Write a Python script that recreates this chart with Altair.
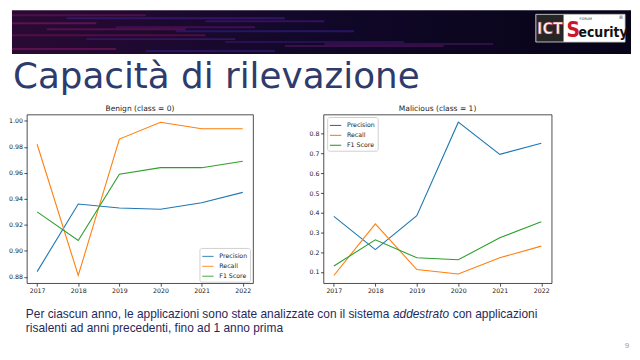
import altair as alt
import pandas as pd

# ---------------- data ----------------
years = [2017, 2018, 2019, 2020, 2021, 2022]
metrics = ["Precision", "Recall", "F1 Score"]
colors = ["#1f77b4", "#ff7f0e", "#2ca02c"]

benign_precision = [0.884, 0.936, 0.933, 0.932, 0.937, 0.945]
benign_recall = [0.982, 0.881, 0.986, 0.999, 0.994, 0.994]
benign_f1 = [0.930, 0.908, 0.959, 0.964, 0.964, 0.969]

mal_precision = [0.382, 0.213, 0.385, 0.859, 0.696, 0.752]
mal_recall = [0.082, 0.344, 0.112, 0.090, 0.172, 0.231]
mal_f1 = [0.130, 0.263, 0.172, 0.162, 0.273, 0.354]

benign_yticks = [0.88, 0.90, 0.92, 0.94, 0.96, 0.98, 1.00]
mal_yticks = [0.1, 0.2, 0.3, 0.4, 0.5, 0.6, 0.7, 0.8]

slide_title = "Capacità di rilevazione"
panel_titles = ["Benign (class = 0)", "Malicious (class = 1)"]
caption_1a = "Per ciascun anno, le applicazioni sono state analizzate con il sistema "
caption_1b = "addestrato"
caption_1c = "con applicazioni"
caption_2 = "risalenti ad anni precedenti, fino ad 1 anno prima"
page_number = "9"

# decorative streaks of the header banner (pixel positions relative to left plot)
streak_x = [-15, 40, -15, 90, 150, -15, 60, 200, 260, -15, 120, 300, 20, 180]
streak_x2 = [120, 260, 70, 230, 330, 180, 210, 380, 420, 90, 250, 470, 160, 300]
streak_y = [-100, -97, -92, -88, -84, -80, -76, -73, -69, -66, -64, -71, -86, -94]
streak_c = ["#5a1050", "#3a1a70", "#6a1555", "#4a1060", "#2a1a70", "#5a0f48",
            "#3b1868", "#30125a", "#45104f", "#6a1250", "#2c1a6a", "#3a1050",
            "#5e1252", "#3a1566"]


def long_df(p, r, f):
    rows = []
    for name, vals in zip(metrics, [p, r, f]):
        for y, v in zip(years, vals):
            rows.append({"year": y, "metric": name, "value": v})
    return pd.DataFrame(rows)


def panel(df, title, w, h, yticks, yfmt, lx, ly):
    lo, hi = df["value"].min(), df["value"].max()
    pad = 0.05 * (hi - lo)
    lines = alt.Chart(df).mark_line(strokeWidth=1.1).encode(
        x=alt.X("year:Q",
                scale=alt.Scale(domain=[2016.75, 2022.25], nice=False, zero=False),
                axis=alt.Axis(values=years, format="d", title=None)),
        y=alt.Y("value:Q",
                scale=alt.Scale(domain=[lo - pad, hi + pad], nice=False, zero=False),
                axis=alt.Axis(values=yticks, format=yfmt, title=None)),
        color=alt.Color("metric:N",
                        scale=alt.Scale(domain=metrics, range=colors),
                        legend=alt.Legend(orient="none", legendX=lx, legendY=ly,
                                          title=None, fillColor="white",
                                          strokeColor="#d0d0d0", cornerRadius=2,
                                          padding=2, rowPadding=-2.2,
                                          symbolType="stroke", symbolSize=130,
                                          symbolStrokeWidth=1.1,
                                          labelFont="DejaVu Sans", labelFontSize=6.3,
                                          labelColor="#222222", labelOffset=5)),
    )
    ttl = alt.Chart(pd.DataFrame({"t": [title]})).mark_text(
        font="DejaVu Sans", fontSize=7.6, color="#222222", baseline="middle"
    ).encode(text="t:N", x=alt.value(w / 2), y=alt.value(-6))
    return lines, ttl


W1, W2, H = 228, 230, 170

l_lines, l_title = panel(long_df(benign_precision, benign_recall, benign_f1),
                         panel_titles[0], W1, H, benign_yticks, ".2f", 174, 134.5)
r_lines, r_title = panel(long_df(mal_precision, mal_recall, mal_f1),
                         panel_titles[1], W2, H, mal_yticks, ".1f", 3.7, 2.5)

# ---------------- slide decorations (left panel pixel space) ----------------
one = pd.DataFrame({"k": [0]})

banner = alt.Chart(one).mark_rect(
    color=alt.LinearGradient(
        gradient="linear",
        stops=[alt.GradientStop(color="#2a0a35", offset=0),
               alt.GradientStop(color="#12082a", offset=0.45),
               alt.GradientStop(color="#070418", offset=1)],
        x1=0, x2=1, y1=0, y2=0)
).encode(x=alt.value(-15), x2=alt.value(609), y=alt.value(-105), y2=alt.value(-61))

streaks = alt.Chart(pd.DataFrame({"x": streak_x, "x2": streak_x2, "y": streak_y,
                                  "c": streak_c})).mark_rule(strokeWidth=2, opacity=0.8).encode(
    x=alt.X("x:Q", scale=None), x2="x2:Q", y=alt.Y("y:Q", scale=None),
    color=alt.Color("c:N", scale=None))

logo_box = alt.Chart(one).mark_rect(color="white", stroke="#bbbbbb", strokeWidth=0.8).encode(
    x=alt.value(513), x2=alt.value(603), y=alt.value(-101), y2=alt.value(-73))
ict_box = alt.Chart(one).mark_rect(color="#262626").encode(
    x=alt.value(513.5), x2=alt.value(541), y=alt.value(-100.5), y2=alt.value(-73.5))
ict_txt = alt.Chart(pd.DataFrame({"t": ["ICT"]})).mark_text(
    font="DejaVu Sans Condensed", fontWeight="bold", fontSize=16, color="#f4f4f4",
    stroke="#b02030", strokeWidth=0.5, baseline="middle", align="center"
).encode(text="t:N", x=alt.value(527.2), y=alt.value(-86.5))
sec_s = alt.Chart(pd.DataFrame({"t": ["S"]})).mark_text(
    font="DejaVu Sans Condensed", fontWeight="bold", fontSize=21, color="#d0142c",
    baseline="alphabetic", align="left"
).encode(text="t:N", x=alt.value(544), y=alt.value(-78))
sec_rest = alt.Chart(pd.DataFrame({"t": ["ecurity"]})).mark_text(
    font="DejaVu Sans Condensed", fontWeight="bold", fontSize=14, color="#111111",
    baseline="alphabetic", align="left"
).encode(text="t:N", x=alt.value(556), y=alt.value(-78))
forum = alt.Chart(pd.DataFrame({"t": ["FORUM"]})).mark_text(
    font="DejaVu Sans", fontSize=3.5, color="#333333", baseline="middle", align="left"
).encode(text="t:N", x=alt.value(557), y=alt.value(-96))
reg = alt.Chart(pd.DataFrame({"t": ["®"]})).mark_text(
    font="DejaVu Sans", fontSize=5, color="#333333", baseline="middle", align="center"
).encode(text="t:N", x=alt.value(599), y=alt.value(-98.5))

title_txt = alt.Chart(pd.DataFrame({"t": [slide_title]})).mark_text(
    font="DejaVu Sans", fontSize=36, color="#2e3b6c", baseline="alphabetic", align="left"
).encode(text="t:N", x=alt.value(-14), y=alt.value(-27))

cap_style = dict(font="Liberation Sans", fontSize=12, color="#1f2a5c",
                 baseline="middle", align="left")
cap1a = alt.Chart(pd.DataFrame({"t": [caption_1a]})).mark_text(**cap_style).encode(
    text="t:N", x=alt.value(-1), y=alt.value(201))
cap1b = alt.Chart(pd.DataFrame({"t": [caption_1b]})).mark_text(
    fontStyle="italic", **cap_style).encode(text="t:N", x=alt.value(369), y=alt.value(201))
cap1c = alt.Chart(pd.DataFrame({"t": [caption_1c]})).mark_text(**cap_style).encode(
    text="t:N", x=alt.value(429.3), y=alt.value(201))
cap2 = alt.Chart(pd.DataFrame({"t": [caption_2]})).mark_text(**cap_style).encode(
    text="t:N", x=alt.value(-1), y=alt.value(215))
pnum = alt.Chart(pd.DataFrame({"t": [page_number]})).mark_text(
    font="Liberation Sans", fontSize=8, color="#9a9a9a", baseline="middle", align="center"
).encode(text="t:N", x=alt.value(605), y=alt.value(233))

left = alt.layer(banner, streaks, logo_box, ict_box, ict_txt, sec_s, sec_rest, forum, reg,
                 title_txt, cap1a, cap1b, cap1c, cap2, pnum,
                 l_lines, l_title).properties(width=W1, height=H)
right = alt.layer(r_lines, r_title).properties(width=W2, height=H)

chart = alt.hconcat(left, right, spacing=71, bounds="flush", padding=0).resolve_scale(
    color="independent"
).configure(background="white").configure_axis(
    labelFont="DejaVu Sans", labelFontSize=6.3, labelColor="#222222",
    tickColor="#222222", tickSize=3, tickWidth=0.8, domain=False, grid=False,
    labelPadding=1.5
).configure_view(stroke="#222222", strokeWidth=0.8)

chart.save("out.html", embed_options={"renderer": "svg", "actions": False})
